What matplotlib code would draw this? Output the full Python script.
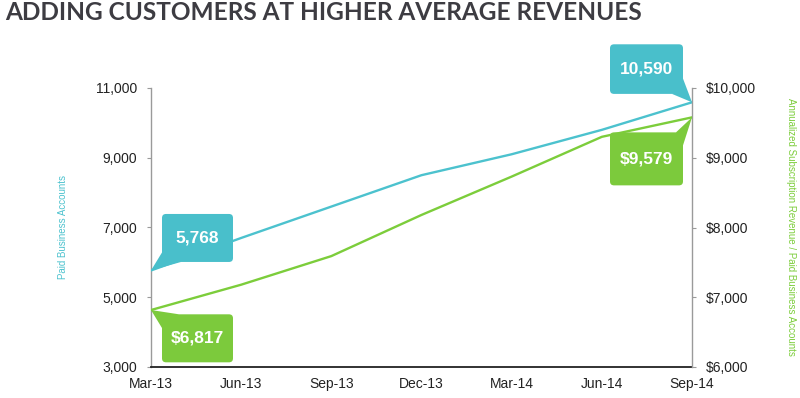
import matplotlib
matplotlib.use('Agg')
import matplotlib.pyplot as plt
import matplotlib.transforms as mtransforms
from matplotlib.patches import FancyBboxPatch, Polygon
from matplotlib.ticker import FuncFormatter, FixedLocator

plt.rcParams['font.family'] = ['Liberation Sans', 'DejaVu Sans']

quarters = ['Mar-13', 'Jun-13', 'Sep-13', 'Dec-13', 'Mar-14', 'Jun-14', 'Sep-14']
paid_accounts = [5768, 6700, 7600, 8500, 9100, 9800, 10590]
revenue_per_account = [6817, 7180, 7590, 8180, 8730, 9300, 9579]
left_ticks = [3000, 5000, 7000, 9000, 11000]
right_ticks = [6000, 7000, 8000, 9000, 10000]

BLUE = '#4cc2ce'
GREEN = '#7ccd3b'
BLUE_BOX = '#49bfcb'
GREEN_BOX = '#7cca3c'

fig = plt.figure(figsize=(8, 3.98), dpi=100)
ax = fig.add_axes([151 / 800, 31 / 398, 541 / 800, 279 / 398])
ax2 = ax.twinx()

xs = list(range(len(quarters)))
ax.plot(xs, paid_accounts, color=BLUE, lw=1.7, zorder=3, solid_capstyle='round')
ax2.plot(xs, revenue_per_account, color=GREEN, lw=1.7, zorder=3, solid_capstyle='round')

# axes styling
for s in ['top', 'right']:
    ax.spines[s].set_visible(False)
for s in ['top', 'left', 'bottom']:
    ax2.spines[s].set_visible(False)
ax.spines['left'].set_color('#9a9a9a')
ax.spines['left'].set_linewidth(1.0)
ax2.spines['right'].set_color('#9a9a9a')
ax2.spines['right'].set_linewidth(1.0)
ax.spines['bottom'].set_color('#222222')
ax.spines['bottom'].set_linewidth(1.3)

ax.set_xticks(xs)
ax.set_xticklabels(quarters)
ax.yaxis.set_major_locator(FixedLocator(left_ticks))
ax.yaxis.set_major_formatter(FuncFormatter(lambda v, p: f'{v:,.0f}'))
ax2.yaxis.set_major_locator(FixedLocator(right_ticks))
ax2.yaxis.set_major_formatter(FuncFormatter(lambda v, p: f'${v:,.0f}'))
ax.tick_params(axis='x', length=0, pad=7, labelsize=10, labelcolor='#222222')
ax.tick_params(axis='y', length=3, width=0.8, color='#9a9a9a', pad=7, labelsize=10, labelcolor='#222222')
ax2.tick_params(axis='y', length=3, width=0.8, color='#9a9a9a', pad=7, labelsize=10, labelcolor='#222222')

# callouts (pixel offsets from the data point, dpi = 100)
def callout(data_trans, xd, yd, box, tail, label, color):
    trans = fig.dpi_scale_trans + mtransforms.ScaledTranslation(xd, yd, data_trans)
    x0, y0, x1, y1 = [v / 100 for v in box]
    p = FancyBboxPatch((x0, y0), x1 - x0, y1 - y0,
                       boxstyle='round,pad=0,rounding_size=0.04',
                       fc=color, ec='none', transform=trans, clip_on=False, zorder=5)
    ax2.add_artist(p)
    t = Polygon([(a / 100, b / 100) for a, b in tail], closed=True, fc=color, ec='none',
                transform=trans, clip_on=False, zorder=5)
    ax2.add_artist(t)
    ax2.text((x0 + x1) / 2, (y0 + y1) / 2, label, transform=trans, ha='center', va='center',
             color='white', fontsize=12.5, fontweight='bold', zorder=6, clip_on=False)

callout(ax.transData, xs[0], paid_accounts[0], (11, 8.5, 82, 56.5),
        [(0, 0), (11, 18), (15, 12.5), (30, 8.5)], f'{paid_accounts[0]:,}', BLUE_BOX)
callout(ax2.transData, xs[0], revenue_per_account[0], (11, -52.3, 82, -4.3),
        [(0, 0), (28, -4.3), (15, -8.3), (11, -18)], f'${revenue_per_account[0]:,}', GREEN_BOX)
callout(ax.transData, xs[-1], paid_accounts[-1], (-82, 8.4, -9, 58),
        [(0, 0), (-9, 23.7), (-13, 12.4), (-20, 8.4)], f'{paid_accounts[-1]:,}', BLUE_BOX)
callout(ax2.transData, xs[-1], revenue_per_account[-1], (-82, -68, -9, -15),
        [(0, 0), (-16, -15), (-13, -19), (-9, -28)], f'${revenue_per_account[-1]:,}', GREEN_BOX)

ax.set_xlim(xs[0], xs[-1])
ax.set_ylim(left_ticks[0], left_ticks[-1])
ax2.set_ylim(right_ticks[0], right_ticks[-1])

fig.text(63 / 800, 1 - 227 / 398, 'Paid Business Accounts', rotation=90, ha='center', va='center',
         color=BLUE, fontsize=7)
fig.text(791 / 800, 1 - 227 / 398, 'Annualized Subscription Revenue / Paid Business Accounts',
         rotation=270, ha='center', va='center', color=GREEN, fontsize=7)

fig.text(5 / 800, 1 - 13 / 398, 'ADDING CUSTOMERS AT HIGHER AVERAGE REVENUES', ha='left', va='center',
         fontsize=17.6, fontweight='bold', family=['Lato', 'DejaVu Sans'], color='#3d3c42')

fig.savefig('out.png', dpi=100)
